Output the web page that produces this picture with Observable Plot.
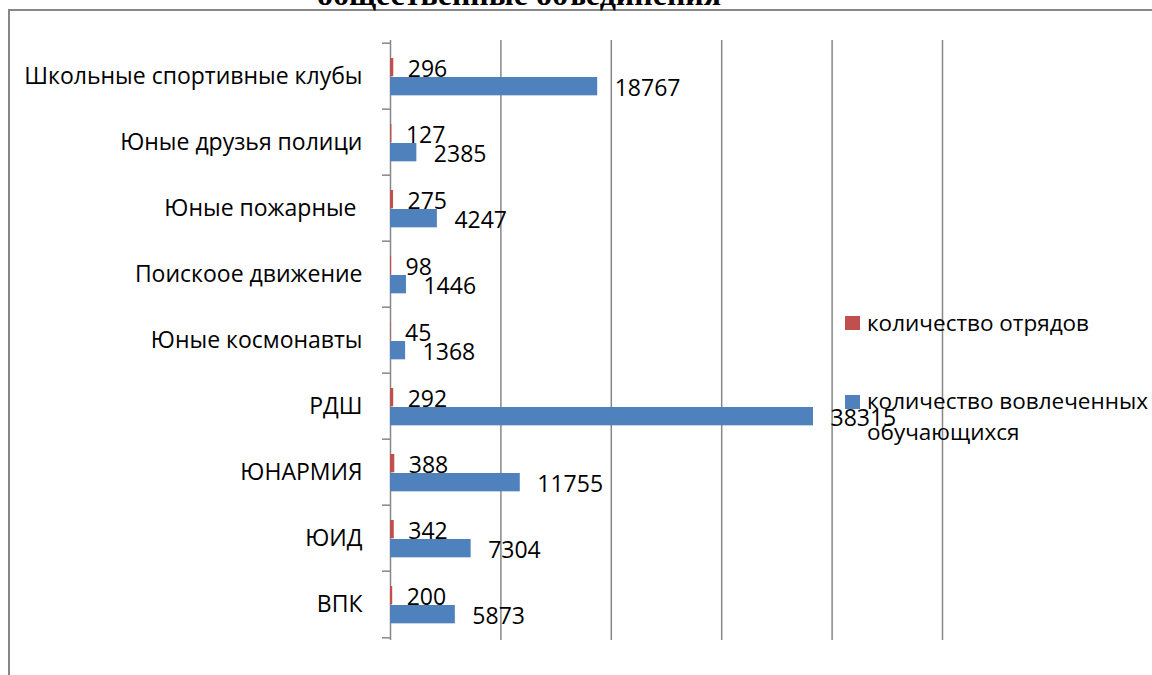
<!DOCTYPE html>
<html>
<head>
<meta charset="utf-8">
<script src="https://cdn.jsdelivr.net/npm/d3@7"></script>
<script src="https://cdn.jsdelivr.net/npm/@observablehq/plot@0.6"></script>
<style>
  html, body { margin: 0; padding: 0; background: #fff; }
  #chart { width: 1152px; height: 675px; overflow: hidden; }
  #chart svg text { white-space: pre; }
</style>
</head>
<body>
<div id="chart"></div>
<script>
const titleText = "общественные объединения";
const categories = ["Школьные спортивные клубы", "Юные друзья полици", "Юные пожарные ", "Поискоое движение", "Юные космонавты", "РДШ", "ЮНАРМИЯ", "ЮИД", "ВПК"];
const squads = [296, 127, 275, 98, 45, 292, 388, 342, 200];
const students = [18767, 2385, 4247, 1446, 1368, 38315, 11755, 7304, 5873];
const seriesNames = ["количество отрядов", "количество вовлеченных обучающихся"];
const seriesColors = ["#C0504D", "#4F81BD"];
const gridTicks = [0, 10000, 20000, 30000, 40000, 50000];

const data = categories.map((c, i) => ({cat: c, squads: squads[i], students: students[i]}));
const FONT = "Open Sans";
const FS = 23;
const GRID = "#878787";

const band = 600 / categories.length;

const plot = Plot.plot({
  width: 1152,
  height: 675,
  marginLeft: 390,
  marginRight: 210,
  marginTop: 40,
  marginBottom: 35,
  style: {fontFamily: FONT, fontSize: FS + "px", color: "#000", background: "#fff", overflow: "visible"},
  x: {domain: [0, 50000], axis: null},
  y: {domain: categories, padding: 0, label: null},
  marks: [
    Plot.ruleX(gridTicks, {stroke: GRID, strokeWidth: 1.5}),
    Plot.axisY({tickSize: 0, tickPadding: 28, fontSize: FS, fill: "#000", label: null}),
    Plot.axisY({tickSize: 8, tickFormat: () => "", label: null, dy: -band / 2, stroke: GRID, strokeWidth: 1.5}),
    Plot.axisY([categories[categories.length - 1]], {tickSize: 8, tickFormat: () => "", label: null, dy: band / 2, stroke: GRID, strokeWidth: 1.5}),
    Plot.barX(data, {x: "squads", y: "cat", fill: seriesColors[0], insetTop: 15, insetBottom: band - 34}),
    Plot.barX(data, {x: "students", y: "cat", fill: seriesColors[1], insetTop: 34, insetBottom: band - 53}),
    Plot.text(data, {x: "squads", y: "cat", text: d => String(d.squads), textAnchor: "start", dx: 14, dy: -7, fontSize: FS, fill: "#000"}),
    Plot.text(data, {x: "students", y: "cat", text: d => String(d.students), textAnchor: "start", dx: 17, dy: 12, fontSize: FS, fill: "#000"})
  ]
});

document.getElementById("chart").appendChild(plot);

const svg = d3.select(plot);

// frame
svg.append("rect")
  .attr("x", 9).attr("y", 10)
  .attr("width", 1200).attr("height", 720)
  .attr("fill", "none").attr("stroke", GRID).attr("stroke-width", 2);

// title (partly cut off at the top, as in the reference)
svg.append("text")
  .attr("x", 519).attr("y", 5)
  .attr("text-anchor", "middle")
  .attr("font-family", "Liberation Serif")
  .attr("font-weight", "bold")
  .attr("font-size", 32)
  .attr("fill", "#000")
  .text(titleText);

// legend
const LFS = 22.5;
const lg = svg.append("g").attr("font-family", FONT).attr("font-size", LFS).attr("fill", "#000").attr("text-anchor", "start");
lg.append("rect").attr("x", 845).attr("y", 316).attr("width", 15).attr("height", 14).attr("fill", seriesColors[0]);
lg.append("text").attr("x", 867).attr("y", 331).attr("text-anchor", "start").text(seriesNames[0]);
lg.append("rect").attr("x", 845).attr("y", 395).attr("width", 15).attr("height", 14).attr("fill", seriesColors[1]);
const words = seriesNames[1].split(" ");
lg.append("text").attr("x", 867).attr("y", 409).attr("text-anchor", "start").text(words.slice(0, 2).join(" "));
lg.append("text").attr("x", 867).attr("y", 440).attr("text-anchor", "start").text(words.slice(2).join(" "));
</script>
</body>
</html>
